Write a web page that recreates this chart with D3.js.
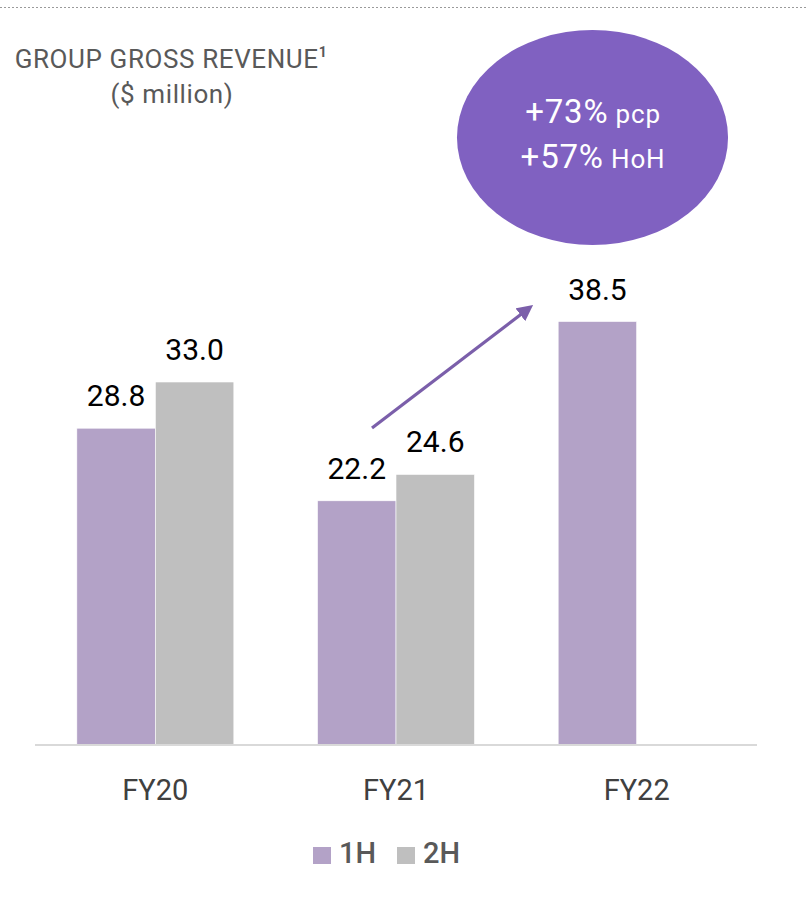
<!DOCTYPE html>
<html>
<head>
<meta charset="utf-8">
<script src="https://cdn.jsdelivr.net/npm/d3@7"></script>
<style>
  html, body { margin: 0; padding: 0; background: #ffffff; }
  svg { display: block; }
</style>
</head>
<body>
<div id="chart"></div>
<script>
// ---- data ----
const categories = ["FY20", "FY21", "FY22"];
const seriesNames = ["1H", "2H"];
const values1H = [28.8, 22.2, 38.5];
const values2H = [33.0, 24.6, null];
const valueLabels1H = ["28.8", "22.2", "38.5"];
const valueLabels2H = ["33.0", "24.6", null];
const titleLines = ["GROUP GROSS REVENUE", "($ million)"];
const calloutLines = [["+73%", "pcp"], ["+57%", "HoH"]];

// ---- layout ----
const W = 807, H = 898;
const colors = { "1H": "#B3A2C7", "2H": "#BFBFBF" };
const svg = d3.select("#chart").append("svg").attr("width", W).attr("height", H);

// top dashed rule
svg.append("line").attr("x1", 0).attr("x2", W).attr("y1", 7.5).attr("y2", 7.5)
  .attr("stroke", "#9a9a9a").attr("stroke-width", 1).attr("stroke-dasharray", "2,2");

// scales
const x0 = d3.scaleBand().domain(categories).range([35, 757]).padding(0);
const x1 = d3.scaleBand().domain(seriesNames).range([0, x0.bandwidth()]).paddingInner(0).paddingOuter(0.533);
const y = d3.scaleLinear().domain([0, 40]).range([745, 305]);

const rows = categories.map((c, i) => ({
  cat: c,
  vals: [
    { s: "1H", v: values1H[i], label: valueLabels1H[i] },
    { s: "2H", v: values2H[i], label: valueLabels2H[i] }
  ].filter(d => d.v != null)
}));

const groups = svg.append("g").selectAll("g").data(rows).join("g")
  .attr("transform", d => `translate(${x0(d.cat)},0)`);

groups.selectAll("rect").data(d => d.vals).join("rect")
  .attr("x", d => x1(d.s))
  .attr("y", d => y(d.v))
  .attr("width", x1.bandwidth())
  .attr("height", d => y(0) - y(d.v))
  .attr("fill", d => colors[d.s])
  .attr("stroke", "#ffffff").attr("stroke-width", 0.6);

groups.selectAll("text").data(d => d.vals).join("text")
  .attr("x", d => x1(d.s) + x1.bandwidth() / 2)
  .attr("y", d => y(d.v) - 22)
  .attr("text-anchor", "middle")
  .attr("font-family", "Roboto, 'Noto Sans', sans-serif")
  .attr("font-size", 30)
  .attr("fill", "#000000")
  .text(d => d.label);

// x axis
const xAxis = svg.append("g").attr("transform", `translate(0,${y(0)})`)
  .call(d3.axisBottom(x0).tickSize(0).tickPadding(34));
xAxis.select(".domain").attr("stroke", "#D9D9D9").attr("stroke-width", 2)
  .attr("d", `M35,0H757`);
xAxis.selectAll("text")
  .attr("font-family", "Roboto, 'Noto Sans', sans-serif")
  .attr("font-size", 29)
  .attr("fill", "#404040");

// title
const title = svg.append("g").attr("font-family", "Roboto, 'Noto Sans', sans-serif").attr("fill", "#595959");
const t1 = title.append("text").attr("x", 171).attr("y", 68).attr("text-anchor", "middle")
  .attr("font-size", 26).attr("font-weight", 400).attr("letter-spacing", 0.6);
t1.append("tspan").text(titleLines[0]);
t1.append("tspan").attr("dy", -11).attr("font-size", 14).attr("font-weight", 700).text("1");
title.append("text").attr("x", 172).attr("y", 103).attr("text-anchor", "middle")
  .attr("font-size", 26).attr("font-weight", 400).attr("letter-spacing", 0.6).text(titleLines[1]);

// callout ellipse
svg.append("ellipse").attr("cx", 592.5).attr("cy", 137.5).attr("rx", 135.5).attr("ry", 107.5)
  .attr("fill", "#8061C1");
const cl = svg.append("g").attr("font-family", "Roboto, 'Noto Sans', sans-serif").attr("fill", "#ffffff")
  .attr("text-anchor", "middle").attr("font-weight", 400);
calloutLines.forEach((ln, i) => {
  const t = cl.append("text").attr("x", 593).attr("y", 123 + i * 45).attr("letter-spacing", 0.8);
  t.append("tspan").attr("font-size", 33).text(ln[0]);
  t.append("tspan").attr("font-size", 26).text(" " + ln[1]);
});

// arrow
const defs = svg.append("defs");
defs.append("marker").attr("id", "arrowhead").attr("viewBox", "0 0 10 10")
  .attr("refX", 6).attr("refY", 5).attr("markerWidth", 5).attr("markerHeight", 5)
  .attr("orient", "auto")
  .append("path").attr("d", "M0,0L10,5L0,10Z").attr("fill", "#7B5FAA");
svg.append("line").attr("x1", 372).attr("y1", 428).attr("x2", 528).attr("y2", 309)
  .attr("stroke", "#7B5FAA").attr("stroke-width", 3.2).attr("marker-end", "url(#arrowhead)");

// legend
const legend = svg.append("g").attr("font-family", "Roboto, 'Noto Sans', sans-serif");
const legX = [313, 397];
seriesNames.forEach((s, i) => {
  legend.append("rect").attr("x", legX[i]).attr("y", 847).attr("width", 18).attr("height", 17)
    .attr("fill", colors[s]);
  legend.append("text").attr("x", legX[i] + 26).attr("y", 863)
    .attr("font-size", 29).attr("font-weight", 500).attr("fill", "#595959").text(s);
});
</script>
</body>
</html>
